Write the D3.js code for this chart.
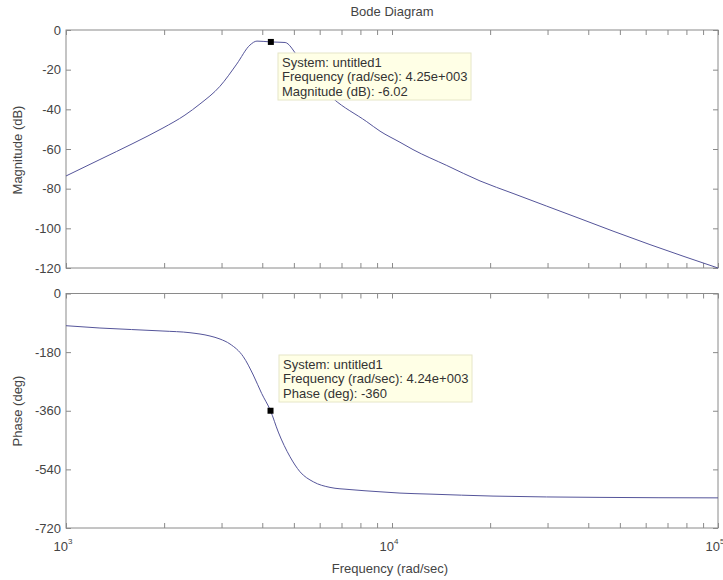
<!doctype html>
<html lang="en">
<head>
<meta charset="utf-8">
<title>Bode Diagram</title>
<style>
body { margin: 0; background: #fff; font-family: Arial, "Liberation Sans", sans-serif; }
svg text { fill: #444; font-size: 13px; }
.tick line { stroke: #8a8a8a; }
.tip text { fill: #333; font-size: 13px; }
</style>
</head>
<body>
<script src="https://cdn.jsdelivr.net/npm/d3@7"></script>
<script>

// Magnitude response (rad/sec, dB)
var magFreq = [1000, 1271, 1605, 1984, 2317, 2576, 2966, 3339, 3667, 3853, 4250, 4700, 5100, 5600, 6590, 8363, 9189, 10580, 11600, 14720, 18620, 23510, 29820, 37730, 47640, 61850, 100000];
var magDb   = [-73.6, -65.3, -57.2, -49.4, -42.9, -37.3, -28.4, -17.2, -7.6, -5.6, -6.02, -6.3, -12.6, -22.7, -34.5, -46.2, -51.0, -56.6, -60.3, -68.3, -76.1, -82.4, -88.8, -95.1, -101.4, -108.2, -120];

// Phase response (rad/sec, deg)
var phFreq = [1000, 1271, 1984, 2401, 2765, 2968, 3185, 3499, 3754, 3984, 4240, 4479, 4866, 5222, 5736, 6454, 7432, 9189, 10580, 13080, 20410, 43450, 100000];
var phDeg  = [-98.9, -106, -115.2, -120.4, -130.5, -139.8, -155.1, -194.1, -250.3, -307.2, -360, -425.4, -501.3, -547.4, -578.1, -595.3, -602, -608.8, -612.8, -615.9, -622, -626, -627.5];

var magTicks = [0, -20, -40, -60, -80, -100, -120];
var phTicks = [0, -180, -360, -540, -720];
var decades = [1e3, 1e4, 1e5];

var magTip = { f: 4250, v: -6.02, lines: ["System: untitled1", "Frequency (rad/sec): 4.25e+003", "Magnitude (dB): -6.02"] };
var phTip  = { f: 4240, v: -360, lines: ["System: untitled1", "Frequency (rad/sec): 4.24e+003", "Phase (deg): -360"] };

var W = 723, H = 580;
var svg = d3.select("body").append("svg").attr("width", W).attr("height", H);

var left = 66, right = 718;
var x = d3.scaleLog().domain([1e3, 1e5]).range([left, right]);
var yMag = d3.scaleLinear().domain([-120, 0]).range([268, 30]);
var yPh = d3.scaleLinear().domain([-720, 0]).range([528, 293.5]);

// minor + major log ticks
var xTicks = [];
decades.slice(0, 2).forEach(function (d) {
  for (var k = 1; k < 10; k++) xTicks.push(d * k);
});
xTicks.push(1e5);

// plain hyphen for negatives, like the original
function fmt(d) { return String(d); }

function panel(y, yt) {
  var g = svg.append("g");
  var r = y.range();
  g.append("g").attr("transform", "translate(0," + r[1] + ")")
    .call(d3.axisTop(x).tickValues(xTicks).tickSize(-5).tickFormat(""));
  g.append("g").attr("transform", "translate(0," + r[0] + ")")
    .call(d3.axisBottom(x).tickValues(xTicks).tickSize(-5).tickFormat(""));
  g.append("g").attr("transform", "translate(" + left + ",0)")
    .call(d3.axisLeft(y).tickValues(yt).tickSize(-5).tickPadding(5).tickFormat(fmt));
  g.append("g").attr("transform", "translate(" + right + ",0)")
    .call(d3.axisRight(y).tickValues(yt).tickSize(-5).tickFormat(""));
  g.selectAll(".domain").remove();
  g.append("rect")
    .attr("x", left).attr("y", r[1])
    .attr("width", right - left).attr("height", r[0] - r[1])
    .attr("fill", "none").attr("stroke", "#8a8a8a");
  g.selectAll("text").style("font-size", "13px").style("fill", "#444")
    .style("font-family", "Arial, 'Liberation Sans', sans-serif");
  return g;
}

panel(yMag, magTicks);
panel(yPh, phTicks);

// curves
var lineMag = d3.line().x(function (d, i) { return x(magFreq[i]); }).y(function (d) { return yMag(d); }).curve(d3.curveMonotoneX);
var linePh = d3.line().x(function (d, i) { return x(phFreq[i]); }).y(function (d) { return yPh(d); }).curve(d3.curveMonotoneX);

svg.append("path").datum(magDb).attr("d", lineMag)
  .attr("fill", "none").attr("stroke", "#55559a").attr("stroke-width", 1);
svg.append("path").datum(phDeg).attr("d", linePh)
  .attr("fill", "none").attr("stroke", "#55559a").attr("stroke-width", 1);

// data tips
function tip(t, y, boxX, boxY) {
  var g = svg.append("g").attr("class", "tip");
  g.append("rect").attr("x", boxX).attr("y", boxY).attr("width", 193).attr("height", 47)
    .attr("fill", "#ffffe6").attr("stroke", "#e6e6c8");
  t.lines.forEach(function (s, i) {
    g.append("text").attr("x", boxX + 4).attr("y", boxY + 14 + i * 14.3).text(s);
  });
  g.append("rect").attr("x", x(t.f) - 3).attr("y", y(t.v) - 3).attr("width", 6).attr("height", 6)
    .attr("fill", "#000");
}
tip(magTip, yMag, 278, 53);
tip(phTip, yPh, 279, 355);

// x tick labels on bottom panel (powers of ten)
decades.forEach(function (d) {
  var t = svg.append("text").attr("x", x(d) - 3).attr("y", 551).attr("text-anchor", "middle");
  t.append("tspan").text("10");
  t.append("tspan").attr("dy", -7).style("font-size", "8px").text(Math.round(Math.log10(d)));
});

// titles
svg.append("text").attr("x", 392).attr("y", 16).attr("text-anchor", "middle").text("Bode Diagram");
svg.append("text").attr("x", 390).attr("y", 573).attr("text-anchor", "middle").text("Frequency (rad/sec)");
svg.append("text").attr("transform", "translate(22,150) rotate(-90)").attr("text-anchor", "middle").text("Magnitude (dB)");
svg.append("text").attr("transform", "translate(22,411) rotate(-90)").attr("text-anchor", "middle").text("Phase (deg)");

</script>
</body>
</html>
